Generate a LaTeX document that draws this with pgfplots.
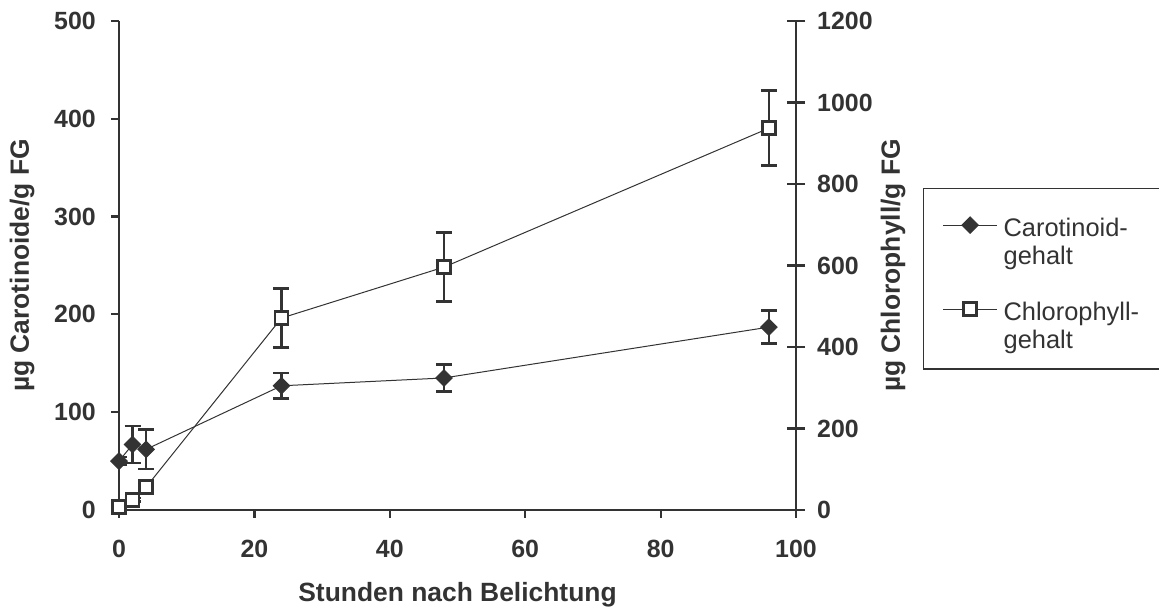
\documentclass[border=0pt]{standalone}
\usepackage{pgfplots}
\pgfplotsset{compat=1.18}
\usepackage{fontspec}
\setmainfont{Liberation Sans}
\definecolor{dg}{HTML}{333333}
\newcommand{\tfont}{\fontsize{25}{29}\selectfont\bfseries}
\newcommand{\afont}{\fontsize{26.5}{30}\selectfont\bfseries}
\newcommand{\lfont}{\fontsize{25.5}{27}\selectfont}
\pgfplotsset{
  common/.style={
    scale only axis, width=677bp, height=489bp,
    at={(119bp,100bp)}, anchor=south west,
    xmin=0, xmax=100,
    /pgf/number format/assume math mode=true,
    /pgf/number format/1000 sep={},
    axis line style={dg, line width=2.2bp},
    tick style={dg, line width=2.2bp},
    tick label style={font=\tfont, text=dg, inner sep=0pt},
    label style={font=\afont, text=dg},
    legend image code/.code={
      \draw[mark repeat=2,mark phase=2,yshift=11bp,#1] plot coordinates {(0bp,0bp) (27bp,0bp) (54bp,0bp)};
    },
  },
  caro/.style={dg, line width=1bp, mark=square*, mark size=5.8bp,
    mark options={rotate=45, fill=dg, draw=dg, line width=1bp, solid}},
  chlo/.style={dg, line width=1bp, mark=square*, mark size=6.5bp,
    mark options={fill=white, draw=dg, line width=2.4bp, solid}},
  ebars/.style={error bars/.cd, y dir=both, y explicit,
    error bar style={dg, line width=2.6bp},
    error mark options={rotate=90, mark size=8bp, line width=2.6bp, dg}},
}
\begin{document}
\begin{tikzpicture}[x=1bp,y=1bp]
\path[use as bounding box] (0,0) rectangle (1159,610);
\begin{axis}[common,
  ymin=0, ymax=500,
  axis x line*=bottom, axis y line*=left,
  xtick={0,20,...,100}, ytick={0,100,...,500},
  tick align=outside, major tick length=8bp,
  xticklabel style={anchor=north, yshift=-22bp},
  yticklabel style={anchor=east, xshift=-15bp},
  xlabel={Stunden nach Belichtung},
  ylabel={µg Carotinoide/g FG},
  xlabel style={at={(rel axis cs:0.5,-0.1738)}, anchor=center},
  ylabel style={at={(rel axis cs:-0.1433,0.5)}, anchor=center, rotate=0},
]
\addplot+[caro, ebars] coordinates {
  (0,50) +- (0,4)
  (2,67) +- (0,19)
  (4,62) +- (0,20)
  (24,127) +- (0,13)
  (48,135) +- (0,14)
  (96,187) +- (0,17)
};
\end{axis}
\begin{axis}[common,
  ymin=0, ymax=1200,
  axis x line=none, axis y line*=right,
  ytick={0,200,...,1200},
  tick align=center, major tick length=18bp,
  yticklabel style={anchor=west, xshift=12bp},
  ylabel={µg Chlorophyll/g FG},
  ylabel style={at={(rel axis cs:1.1433,0.5)}, anchor=center, rotate=0},
  legend style={at={(rel axis cs:1.1876,0.6585)}, anchor=north west,
    draw=dg, line width=1.2bp, font=\lfont, text=dg,
    inner xsep=19bp, inner ysep=16bp, row sep=5bp,
    cells={anchor=base west},
    nodes={inner ysep=0bp, inner xsep=6bp, text height=18bp, text depth=5bp, text width=200bp}},
]
\addlegendimage{caro, legend image code/.code={
  \path (0bp,31bp);
  \draw[mark repeat=2,mark phase=2,yshift=11bp,##1] plot coordinates {(0bp,0bp) (27bp,0bp) (54bp,0bp)};}}
\addlegendentry{Carotinoid-}
\addlegendimage{empty legend}
\addlegendentry{gehalt}
\addlegendimage{empty legend}
\addlegendentry{}
\addplot+[chlo, ebars] coordinates {
  (0,7) +- (0,4)
  (2,25) +- (0,4)
  (4,56) +- (0,6)
  (24,471) +- (0,72)
  (48,596) +- (0,85)
  (96,937) +- (0,92)
};
\addlegendentry{Chlorophyll-}
\addlegendimage{empty legend}
\addlegendentry{gehalt}
\end{axis}
\end{tikzpicture}
\end{document}
